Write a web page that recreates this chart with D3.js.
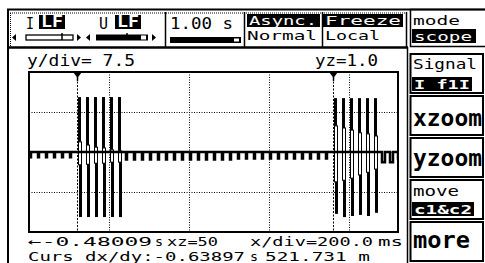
<!DOCTYPE html>
<html>
<head>
<meta charset="utf-8">
<script src="https://cdn.jsdelivr.net/npm/d3@7"></script>
<style>
  body { margin: 0; background: #fff; }
  svg text { font-family: "DejaVu Sans Mono", monospace; }
</style>
</head>
<body>
<svg id="scope" width="485" height="263"></svg>
<script>
// scope settings, as shown on the display
var xPerDiv = 200;            // ms / div
var yPerDiv = 7.5;
var xLeftMs = -480.09;        // time at left edge of the screen
var cursor1Ms = -360.09;
var cursorDxMs = -638.97;
var cursorDy = "521.731 m";
var xDivs = 4.6125, yDivs = 4;

// 50 Hz mains cycles, ripple tooth depth per cycle
var cycleT0 = -477.6, cycleMs = 20;
var rippleLo = [-1.0, -1.0, -1.0, -1.0, -1.0, -1.0, 0, 0, 0, 0, 0, 0,
  -1.4, -1.4, -1.4, -1.4, -1.4, -1.4, -1.4, -1.4, -1.4, -1.4, -1.4, -1.4, -1.4, -1.4,
  -1.2, -1.2, -1.2, -1.2, -1.2, -1.2, -1.2, -1.2, -1.2, -1.2, -1.2, -1.2,
  0, 0, 0, 0, 0, 0, -1.9, -1.9, -1.2];
// ripple tooth width per cycle (ms)
var rippleW = [2.5, 2.5, 2.5, 2.5, 2.5, 2.5, 0, 0, 0, 0, 0, 0,
  2.5, 2.5, 2.5, 2.5, 2.5, 2.5, 2.5, 2.5, 2.5, 2.5, 2.5, 2.5, 2.5, 2.5,
  2.5, 2.5, 2.5, 2.5, 2.5, 2.5, 2.5, 2.5, 2.5, 2.5, 2.5, 2.5,
  0, 0, 0, 0, 0, 0, 7.5, 7.5, 2.5];

// first burst of pulses (cycle index, peaks, knees)
var burst1Cycle = [6, 7, 8, 9, 10, 11];
var burst1Hi = [10.3, 10.3, 10.3, 10.3, 10.3, 10.3];
var burst1KneeHi = [1.9, 1.3, 0.9, 0.75, 0.4, 0.2];
var burst1KneeLo = [-2.4, -2.3, -2.1, -2.1, -1.9, -1.9];
var burst1Lo = [-12.2, -12.2, -12.2, -12.2, -12.2, -12.2];

// second burst
var burst2Cycle = [38, 39, 40, 41, 42, 43];
var burst2Hi = [10.1, 10.1, 10.1, 10.1, 10.1, 10.1];
var burst2KneeHi = [4.9, 4.5, 4.1, 3.6, 3.4, 3.0];
var burst2KneeLo = [-5.6, -5.3, -4.9, -4.3, -3.8, -3.2];
var burst2Lo = [-11.6, -12.2, -12, -11.8, -12, -11.4];

var svg = d3.select("#scope");

var plot = {left: 29, top: 72, width: 369, height: 160};

var x = d3.scaleLinear()
    .domain([xLeftMs, xLeftMs + xDivs * xPerDiv])
    .range([plot.left, plot.left + plot.width]);
var y = d3.scaleLinear()
    .domain([-yDivs / 2 * yPerDiv, yDivs / 2 * yPerDiv])
    .range([plot.top + plot.height, plot.top]);

function label(g, px, py, str, w, opt) {
  opt = opt || {};
  var t = g.append("text")
      .attr("x", px).attr("y", py)
      .attr("fill", opt.fill || "#000")
      .style("font-size", (opt.size || 15) + "px")
      .style("font-weight", opt.bold ? "bold" : "normal")
      .text(str);
  if (w) t.attr("textLength", w).attr("lengthAdjust", "spacingAndGlyphs");
  return t;
}
function inverse(g, x0, y0, x1, y1, str, w, opt) {
  g.append("rect").attr("x", x0).attr("y", y0).attr("width", x1 - x0).attr("height", y1 - y0).attr("fill", "#000");
  opt = Object.assign({fill: "#fff"}, opt || {});
  label(g, x0 + 2, y1 - 2, str, w, opt);
}
function hline(g, x0, x1, yy, w, dash) {
  g.append("line").attr("x1", x0).attr("x2", x1).attr("y1", yy).attr("y2", yy)
    .attr("stroke", "#000").attr("stroke-width", w).attr("stroke-dasharray", dash || null);
}
function vline(g, xx, y0, y1, w, dash) {
  g.append("line").attr("x1", xx).attr("x2", xx).attr("y1", y0).attr("y2", y1)
    .attr("stroke", "#000").attr("stroke-width", w).attr("stroke-dasharray", dash || null);
}
function tri(g, pts) {
  g.append("path").attr("d", "M" + pts.join("L") + "Z").attr("fill", "#000");
}

// ---- outer frame / top bar
var ui = svg.append("g");
hline(ui, 7, 485, 9.5, 2);
vline(ui, 8, 9, 263, 2);
hline(ui, 8, 408, 47.5, 2.5);
vline(ui, 407.5, 47, 263, 1.5);
hline(ui, 10, 406, 13, 1, "1,1");
vline(ui, 10.5, 13, 46, 1, "1,1");
[165.5, 244.5, 322.5, 406.5].forEach(function (d) { vline(ui, d, 12, 47, 1.5); });

// I / U channel selectors
label(ui, 26, 29, "I", 8);
inverse(ui, 39, 15, 65, 29, "LF", 22, {bold: true});
label(ui, 99, 29, "U", 9);
inverse(ui, 115, 15, 141, 29, "LF", 22, {bold: true});
tri(ui, [[12, 37.5], [16, 34], [16, 41]]);
ui.append("rect").attr("x", 26).attr("y", 35).attr("width", 47).attr("height", 5)
  .attr("fill", "#fff").attr("stroke", "#000").attr("stroke-width", 1.3);
vline(ui, 62, 33, 40, 1.5);
tri(ui, [[81, 37.5], [77, 34], [77, 41]]);
tri(ui, [[86, 37.5], [90, 34], [90, 41]]);
ui.append("rect").attr("x", 96).attr("y", 34.5).attr("width", 52).attr("height", 6).attr("fill", "#000");
ui.append("rect").attr("x", 141).attr("y", 35.5).attr("width", 5).attr("height", 4).attr("fill", "#fff");
vline(ui, 127, 33, 35, 1.5);
tri(ui, [[156, 37.5], [152, 34], [152, 41]]);

// timebase
label(ui, 170, 29, "1.00 s", 63);
ui.append("rect").attr("x", 170).attr("y", 37).attr("width", 71).attr("height", 6).attr("fill", "#000");
ui.append("rect").attr("x", 234).attr("y", 38.5).attr("width", 5).attr("height", 3).attr("fill", "#fff");

inverse(ui, 247, 14, 320, 27, "Async.", 68, {size: 13});
label(ui, 247, 40, "Normal", 70, {size: 13});
inverse(ui, 323, 14, 403, 27, "Freeze", 76, {size: 13});
label(ui, 325, 40, "Local", 55, {size: 13});

// mode box
ui.append("rect").attr("x", 410.5).attr("y", 9.5).attr("width", 80).attr("height", 37)
  .attr("fill", "none").attr("stroke", "#000").attr("stroke-width", 1.5);
label(ui, 413, 25, "mode", 47, {size: 13});
inverse(ui, 412, 29, 476, 43, "scope", 58, {size: 13});

// right-hand buttons
var buttons = [
  {y0: 54, y1: 93}, {y0: 96, y1: 135}, {y0: 138, y1: 177}, {y0: 180, y1: 219}, {y0: 222, y1: 261}
];
buttons.forEach(function (b) {
  ui.append("rect").attr("x", 410.5).attr("y", b.y0).attr("width", 72.5).attr("height", b.y1 - b.y0)
    .attr("fill", "none").attr("stroke", "#000").attr("stroke-width", 2);
});
label(ui, 413, 69, "Signal", 64, {size: 14});
inverse(ui, 412, 77, 472, 91, "I f1I", 56, {bold: true, size: 13});
label(ui, 413, 126, "xzoom", 69, {size: 23, bold: true});
label(ui, 413, 166, "yzoom", 69, {size: 23, bold: true});
label(ui, 413, 196, "move", 46, {size: 14});
inverse(ui, 412, 202, 474, 216, "c1&c2", 58, {bold: true, size: 13});
label(ui, 413, 248, "more", 57, {size: 23, bold: true});

// ---- scope screen
label(ui, 27, 66, "y/div= " + yPerDiv.toFixed(1), 108);
label(ui, 315, 66, "yz=1.0", 63);
label(ui, 28, 246, "\u2190" + (xLeftMs / 1000).toFixed(5), 124, {size: 13});
label(ui, 155, 246, "s", 8, {size: 13});
label(ui, 167, 246, "xz=50", 51, {size: 13});
label(ui, 250, 246, "x/div=" + xPerDiv.toFixed(1), 123, {size: 13});
label(ui, 378, 246, "ms", 25, {size: 13});
label(ui, 28, 261, "Curs dx/dy:" + (cursorDxMs / 1000).toFixed(5), 217, {size: 13});
label(ui, 250, 261, "s", 8, {size: 13});
label(ui, 265, 261, cursorDy, 105, {size: 13});

svg.append("clipPath").attr("id", "clip")
  .append("rect").attr("x", plot.left).attr("y", plot.top).attr("width", plot.width).attr("height", plot.height);

var screen = svg.append("g");

// grid (dotted)
var gridX = d3.range(1, Math.floor(xDivs) + 1).map(function (k) { return xLeftMs + k * xPerDiv; });
var gridY = [-yPerDiv, 0, yPerDiv];
screen.selectAll(".gx").data(gridX).enter().append("line")
  .attr("x1", function (d) { return Math.round(x(d)) + 0.5; })
  .attr("x2", function (d) { return Math.round(x(d)) + 0.5; })
  .attr("y1", plot.top).attr("y2", plot.top + plot.height)
  .attr("stroke", "#000").attr("stroke-dasharray", "1,1.5");
screen.selectAll(".gy").data(gridY).enter().append("line")
  .attr("x1", plot.left).attr("x2", plot.left + plot.width)
  .attr("y1", function (d) { return Math.round(y(d)) + 0.5; })
  .attr("y2", function (d) { return Math.round(y(d)) + 0.5; })
  .attr("stroke", "#000").attr("stroke-dasharray", "1,1.5");

// pulses
function pulses(cyc, hi, kHi, kLo, lo) {
  return cyc.map(function (c, i) {
    return {t: cycleT0 + c * cycleMs, hi: hi[i], kHi: kHi[i], kLo: kLo[i], lo: lo[i]};
  });
}
var allPulses = pulses(burst1Cycle, burst1Hi, burst1KneeHi, burst1KneeLo, burst1Lo)
  .concat(pulses(burst2Cycle, burst2Hi, burst2KneeHi, burst2KneeLo, burst2Lo));

var pg = screen.append("g").attr("clip-path", "url(#clip)");
var pulse = pg.selectAll(".pulse").data(allPulses).enter().append("g");
pulse.append("rect")
  .attr("x", function (d) { return x(d.t); })
  .attr("width", function (d) { return x(d.t + 7.5) - x(d.t); })
  .attr("y", function (d) { return y(d.hi); })
  .attr("height", function (d) { return y(d.kHi) - y(d.hi); })
  .attr("fill", "#000");
pulse.append("rect")
  .attr("x", function (d) { return x(d.t) + 0.5; })
  .attr("width", function (d) { return x(d.t + 10) - x(d.t) - 1; })
  .attr("y", function (d) { return y(d.kHi); })
  .attr("height", function (d) { return y(d.kLo) - y(d.kHi); })
  .attr("fill", "#fff").attr("stroke", "#000").attr("stroke-width", 1);
pulse.append("rect")
  .attr("x", function (d) { return x(d.t + 2.5); })
  .attr("width", function (d) { return x(d.t + 10) - x(d.t + 2.5); })
  .attr("y", function (d) { return y(d.kLo); })
  .attr("height", function (d) { return y(d.lo) - y(d.kLo); })
  .attr("fill", "#000");

// baseline ripple trace
var burstSet = burst1Cycle.concat(burst2Cycle);
var trace = [];
rippleLo.forEach(function (lo, k) {
  var t0 = cycleT0 + k * cycleMs;
  if (burstSet.indexOf(k) >= 0) { trace.push([t0, 0]); return; }
  trace.push([t0, 0], [t0, lo], [t0 + rippleW[k], lo], [t0 + rippleW[k], 0]);
});
trace.push([xLeftMs + xDivs * xPerDiv, 0]);
var line = d3.line().x(function (d) { return x(d[0]); }).y(function (d) { return y(d[1]); });
pg.append("path").datum(trace).attr("d", line)
  .attr("fill", "none").attr("stroke", "#000").attr("stroke-width", 2.5).attr("stroke-linejoin", "miter");

// cursors
var cursors = [cursor1Ms, cursor1Ms - cursorDxMs];
cursors.forEach(function (c) {
  var cx = Math.round(x(c)) + 0.5;
  vline(screen, cx, plot.top + 6, plot.top + plot.height, 1, "2,1.5");
  tri(screen, [[cx - 4, plot.top + 0.5], [cx + 4, plot.top + 0.5], [cx, plot.top + 6]]);
  vline(screen, cx, plot.top + 5, plot.top + 9, 1.5);
});

// frame
screen.append("rect").attr("x", plot.left).attr("y", plot.top).attr("width", plot.width).attr("height", plot.height)
  .attr("fill", "none").attr("stroke", "#000").attr("stroke-width", 2);
</script>
</body>
</html>
